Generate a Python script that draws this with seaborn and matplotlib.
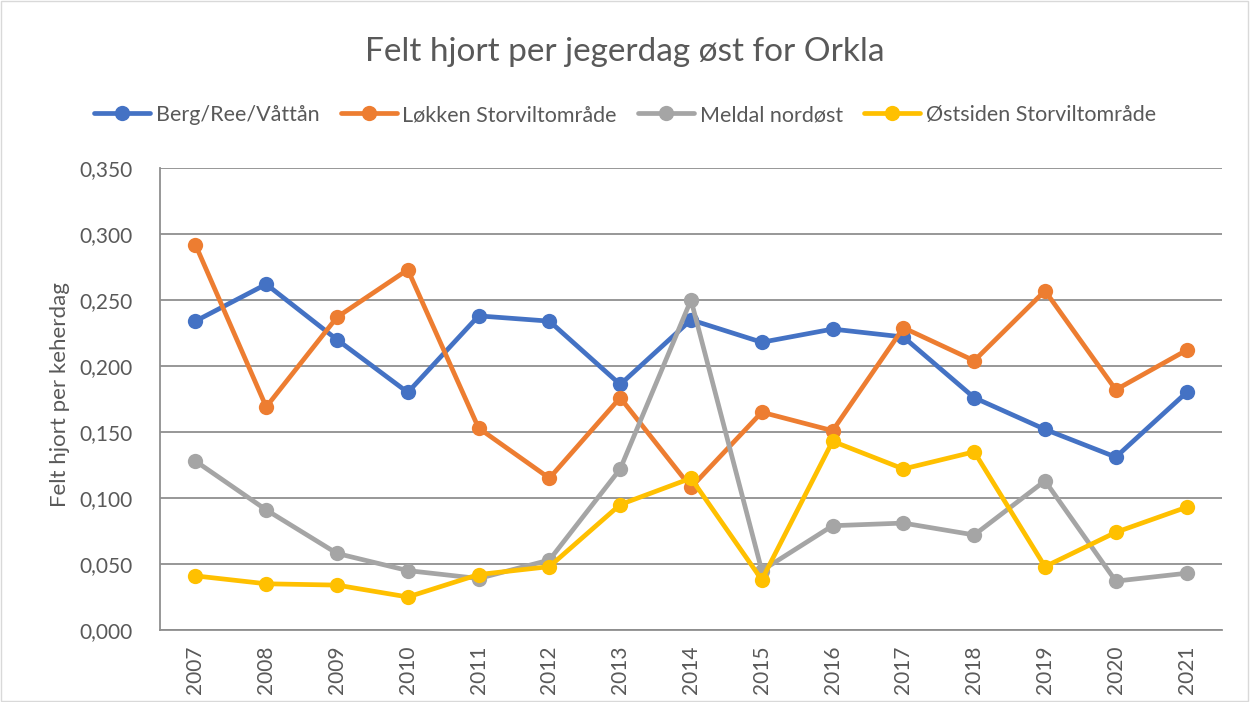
import pandas as pd
import seaborn as sns
import matplotlib.pyplot as plt
from matplotlib.ticker import FuncFormatter

years = list(range(2007, 2022))
berg = [0.234, 0.262, 0.220, 0.180, 0.238, 0.234, 0.186, 0.235, 0.218, 0.228, 0.222, 0.176, 0.152, 0.131, 0.180]
lokken = [0.292, 0.169, 0.237, 0.273, 0.153, 0.115, 0.176, 0.108, 0.165, 0.151, 0.229, 0.204, 0.257, 0.182, 0.212]
meldal = [0.128, 0.091, 0.058, 0.045, 0.039, 0.053, 0.122, 0.250, 0.045, 0.079, 0.081, 0.072, 0.113, 0.037, 0.043]
ostsiden = [0.041, 0.035, 0.034, 0.025, 0.042, 0.048, 0.095, 0.115, 0.038, 0.143, 0.122, 0.135, 0.048, 0.074, 0.093]

series_names = ["Berg/Ree/Våttån", "Løkken Storviltområde", "Meldal nordøst", "Østsiden Storviltområde"]
colors = ["#4472C4", "#ED7D31", "#A5A5A5", "#FFC000"]

# long format for seaborn
df = pd.DataFrame({
    "år": years * 4,
    "verdi": berg + lokken + meldal + ostsiden,
    "område": sum([[n] * len(years) for n in series_names], []),
})

sns.set_style("white")
plt.rcParams['font.family'] = ['Lato', 'DejaVu Sans']
txt = "#595959"
grid_c = "#8f8f8f"

fig = plt.figure(figsize=(12.5, 7.02), dpi=100)
ax = fig.add_axes([0.128, 0.1026, 0.8496, 0.658])

sns.lineplot(data=df, x="år", y="verdi", hue="område", palette=colors,
             marker="o", markersize=11, markeredgewidth=0, linewidth=3.4,
             ax=ax, legend=False, sort=False)

ax.set_xlim(2006.5, 2021.5)
ax.set_ylim(0, 0.35)
ax.set_yticks([i * 0.05 for i in range(8)])
ax.yaxis.set_major_formatter(FuncFormatter(lambda v, p: f"{v:.3f}".replace(".", ",")))
ax.set_xticks(years)
ax.set_xticklabels([str(y) for y in years], rotation=90)
ax.tick_params(axis="both", labelsize=15, colors=txt, length=0)
ax.tick_params(axis="y", pad=20)
ax.tick_params(axis="x", pad=11)
ax.grid(axis="y", color=grid_c, linewidth=1.3)
ax.set_axisbelow(True)
for s in ["top", "right"]:
    ax.spines[s].set_visible(False)
for s in ["left", "bottom"]:
    ax.spines[s].set_color(grid_c)
    ax.spines[s].set_linewidth(1.3)

ax.set_xlabel("")
ax.set_ylabel("Felt hjort per keherdag", fontsize=16, color=txt)
ax.yaxis.set_label_coords(-0.085, 0.51)

fig.text(0.5, 1 - 52 / 702, "Felt hjort per jegerdag øst for Orkla", fontsize=24,
         color=txt, ha="center", va="center")

handles = [plt.Line2D([], [], color=c, marker="o", markersize=11, markeredgewidth=0, linewidth=3.4)
           for c in colors]
fig.legend(handles, series_names, loc="center", bbox_to_anchor=(0.5, 1 - 115 / 702), ncol=4,
           frameon=False, fontsize=15.5, labelcolor=txt, handlelength=2.6,
           handletextpad=0.25, columnspacing=1.0)

fig.patches.append(plt.Rectangle((0.001, 0.001), 0.997, 0.997, transform=fig.transFigure,
                                 fill=False, edgecolor="#d9d9d9", linewidth=1))

fig.savefig("out.png", dpi=100)
